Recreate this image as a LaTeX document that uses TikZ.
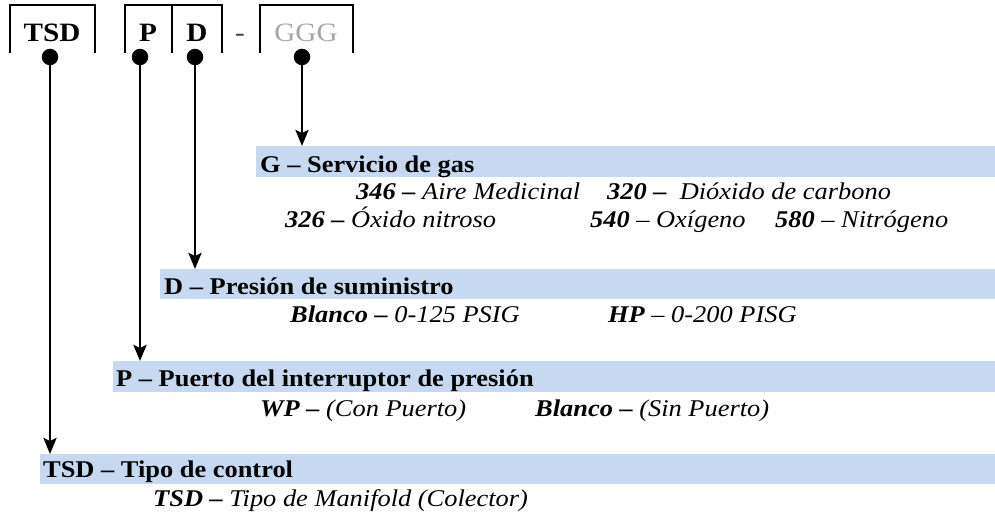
\documentclass[tikz,border=0pt]{standalone}
\usepackage{fontspec}
\setmainfont{Liberation Serif}[FakeStretch=1.1]
\usetikzlibrary{arrows.meta}
\definecolor{barblue}{HTML}{C6D9F1}
\definecolor{ggggray}{HTML}{A6A6A6}
\definecolor{dashgray}{HTML}{404040}
\begin{document}
\begin{tikzpicture}[x=1pt,y=-1pt,
  bar/.style={fill=barblue, draw=none, inner sep=0pt, outer sep=0pt, anchor=north west},
  ttl/.style={font=\fontsize{24}{28}\selectfont\bfseries, anchor=base west, inner sep=0pt},
  opt/.style={font=\fontsize{24}{28}\selectfont\itshape, anchor=base west, inner sep=0pt},
  code/.style={font=\fontsize{26.5}{30}\selectfont\bfseries, anchor=base, inner sep=0pt},
  dot/.style={circle, fill=black, inner sep=0pt, minimum size=16.5pt},
  conn/.style={line width=2.7pt, -{Stealth[length=16pt,width=13pt,inset=3pt]}},
  frame/.style={line width=2.7pt, line join=miter}]
\useasboundingbox (0,0) rectangle (995,516);

% code boxes
\draw[frame] (10,53) -- (10,5) -- (95,5) -- (95,53);
\draw[frame] (125,53) -- (125,5) -- (222,5) -- (222,53);
\draw[frame] (172,5) -- (172,53);
\draw[frame] (260,53) -- (260,5) -- (353,5) -- (353,53);
\node[code] (cT) at (52,42) {TSD};
\node[code] (cP) at (148,42) {P};
\node[code] (cD) at (197,42) {D};
\node[code, font=\fontsize{26.5}{30}\selectfont, text=dashgray] (cdash) at (240,42) {-};
\node[code, font=\fontsize{26.5}{30}\selectfont, text=ggggray] (cG) at (306,42) {GGG};

% dots
\node[dot] (dT) at (50,57) {};
\node[dot] (dP) at (140,57) {};
\node[dot] (dD) at (195,57) {};
\node[dot] (dG) at (302,57) {};

% bars
\node[bar, minimum width=739pt, minimum height=31pt] (barG) at (256,146) {};
\node[bar, minimum width=835pt, minimum height=30pt] (barD) at (160,269) {};
\node[bar, minimum width=882pt, minimum height=31pt] (barP) at (113,361) {};
\node[bar, minimum width=955pt, minimum height=30pt] (barT) at (40,454) {};

% connectors
\draw[conn] (dG) -- (dG |- barG.north);
\draw[conn] (dD) -- (dD |- barD.north);
\draw[conn] (dP) -- (dP |- barP.north);
\draw[conn] (dT) -- (dT |- barT.north);

% G
\node[ttl] (tG) at (260,172) {G – Servicio de gas};
\node[opt] (g1) at (356,199) {{\bfseries 346 –} Aire Medicinal};
\node[opt] (g2) at (607,199) {{\bfseries 320 –}\ \ Dióxido de carbono};
\node[opt] (g3) at (285,227) {{\bfseries 326 –} Óxido nitroso};
\node[opt] (g4) at (590,227) {{\bfseries 540} – Oxígeno};
\node[opt] (g5) at (775,227) {{\bfseries 580} – Nitrógeno};

% D
\node[ttl] (tD) at (164,294) {D – Presión de suministro};
\node[opt] (d1) at (290,322) {{\bfseries Blanco –} 0-125 PSIG};
\node[opt] (d2) at (608,322) {{\bfseries HP} – 0-200 PISG};

% P
\node[ttl] (tP) at (116,386) {P – Puerto del interruptor de presión};
\node[opt] (p1) at (260,416) {{\bfseries WP –} (Con Puerto)};
\node[opt] (p2) at (535,416) {{\bfseries Blanco –} (Sin Puerto)};

% TSD
\node[ttl] (tT) at (43,477) {TSD – Tipo de control};
\node[opt] (t1) at (153,506) {{\bfseries TSD –} Tipo de Manifold (Colector)};
\end{tikzpicture}
\end{document}
